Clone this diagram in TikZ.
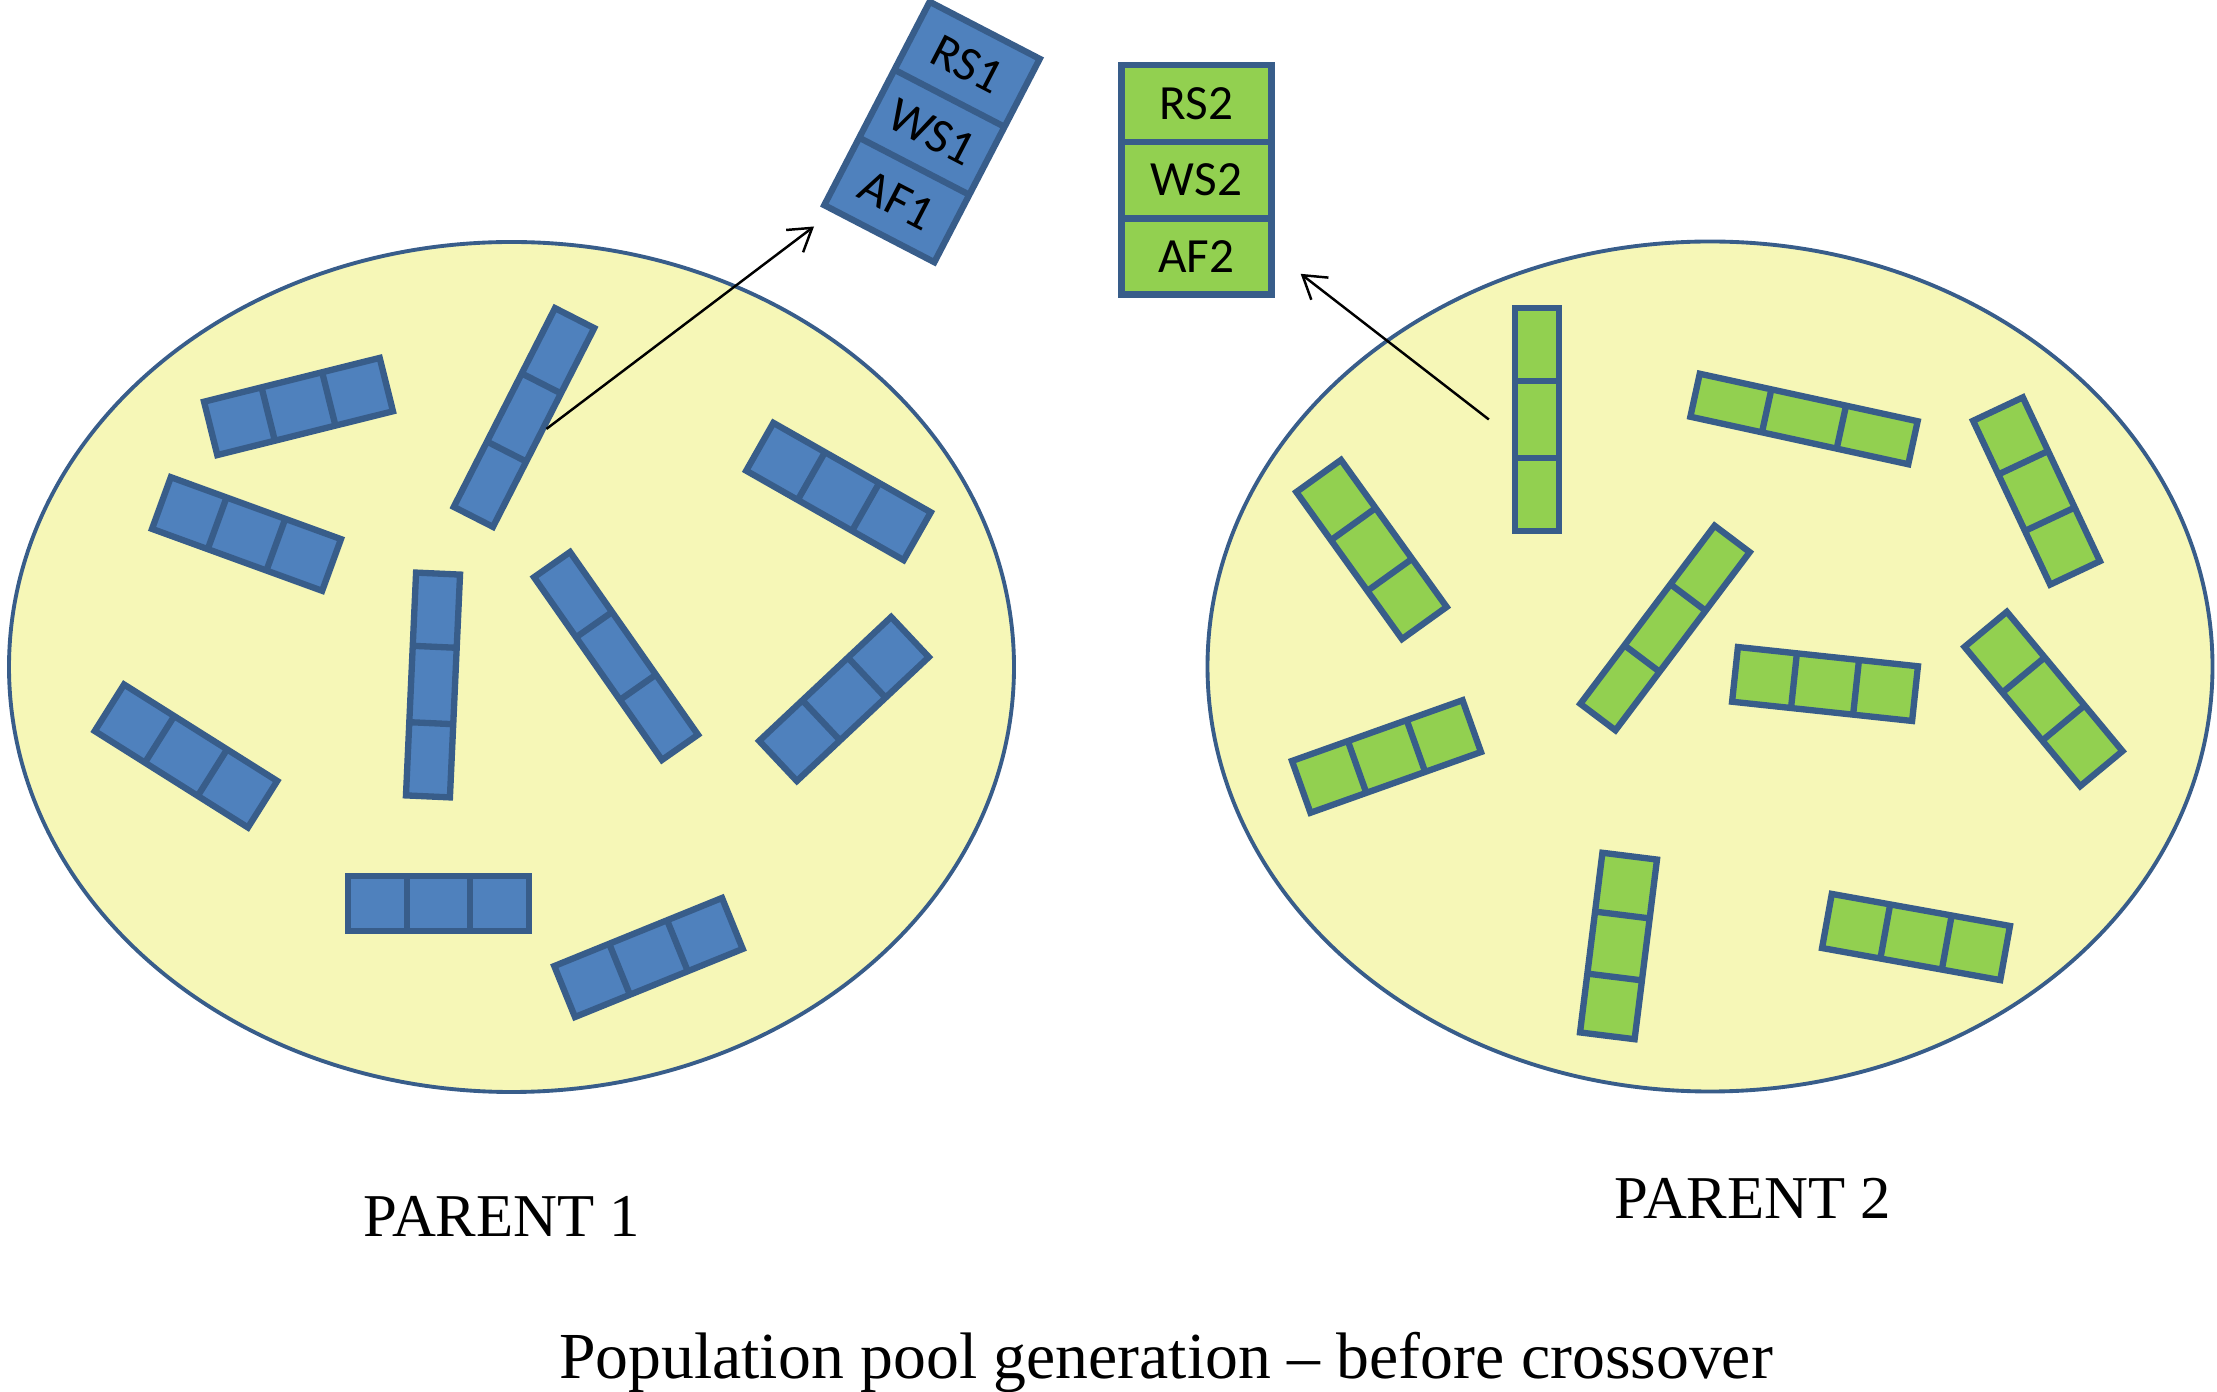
\documentclass[tikz,border=0pt]{standalone}
\usepackage{fontspec}
\setmainfont{Liberation Serif}
\newfontfamily\genefont{Carlito}
\usepackage{tikz}
\usepackage{xcolor}
\usetikzlibrary{shapes.geometric, shapes.multipart, arrows.meta}
\definecolor{poolyellow}{RGB}{246,247,183}
\definecolor{poolline}{RGB}{56,93,138}
\definecolor{geneline}{RGB}{56,93,138}
\definecolor{geneblue}{RGB}{79,129,189}
\definecolor{genegreen}{RGB}{146,208,80}
\tikzstyle{pool} = [ellipse, draw=poolline, fill=poolyellow, line width=1.1pt, minimum width=10.05cm, minimum height=8.5cm, inner sep=0pt]
\tikzstyle{gene} = [rectangle split, rectangle split horizontal, rectangle split parts=3, draw=geneline, line width=1.8pt, inner sep=0pt, rectangle split empty part depth=0pt]
\tikzstyle{shortgene} = [gene, rectangle split empty part width=0.40cm, rectangle split empty part height=0.55cm]
\tikzstyle{longgene} = [gene, rectangle split empty part width=0.54cm, rectangle split empty part height=0.44cm]
\tikzstyle{chromo} = [rectangle split, rectangle split parts=3, draw=geneline, line width=1.8pt, align=center, inner xsep=0pt, inner ysep=5.4pt, font=\genefont\fontsize{14}{16}\selectfont]
\tikzstyle{arrow} = [line width=0.7pt, -{Straight Barb[length=2.2mm, width=2.8mm]}]
\tikzstyle{parent} = [anchor=base, font=\fontsize{17.3}{20}\selectfont]

\begin{document}
\begin{tikzpicture}
\useasboundingbox (0,0) rectangle (22.17,13.91);
\node[pool] (pool1) at (5.115,7.24) {};
\node[pool] (pool2) at (17.10,7.245) {};

\node[shortgene, fill=geneblue, rotate=14] (p1a) at (2.985,9.845) {};
\node[longgene, fill=geneblue, rotate=63] (p1b) at (5.24,9.735) {};
\node[shortgene, fill=geneblue, rotate=-20] (p1c) at (2.465,8.57) {};
\node[longgene, fill=geneblue, rotate=87.4] (p1d) at (4.33,7.06) {};
\node[longgene, fill=geneblue, rotate=-55] (p1e) at (6.16,7.35) {};
\node[shortgene, fill=geneblue, rotate=-29.6] (p1f) at (8.385,8.995) {};
\node[shortgene, fill=geneblue, rotate=43.2] (p1g) at (8.44,6.92) {};
\node[shortgene, fill=geneblue, rotate=-32.2] (p1h) at (1.86,6.35) {};
\node[shortgene, fill=geneblue] (p1i) at (4.385,4.875) {};
\node[shortgene, fill=geneblue, rotate=22.1] (p1j) at (6.485,4.335) {};

\node[longgene, fill=genegreen, rotate=90] (p2a) at (15.37,9.715) {};
\node[longgene, fill=genegreen, rotate=-12.3] (p2b) at (18.04,9.72) {};
\node[shortgene, fill=genegreen, rotate=-64.8] (p2c) at (20.365,9.0) {};
\node[shortgene, fill=genegreen, rotate=-54.3] (p2d) at (13.715,8.415) {};
\node[longgene, fill=genegreen, rotate=53] (p2e) at (16.65,7.63) {};
\node[shortgene, fill=genegreen, rotate=-6.1] (p2f) at (18.25,7.07) {};
\node[shortgene, fill=genegreen, rotate=-50.3] (p2g) at (20.435,6.92) {};
\node[shortgene, fill=genegreen, rotate=19.6] (p2h) at (13.865,6.345) {};
\node[shortgene, fill=genegreen, rotate=82.9] (p2i) at (16.185,4.45) {};
\node[shortgene, fill=genegreen, rotate=-10.2] (p2j) at (19.16,4.54) {};

\node[chromo, fill=geneblue, text width=1.24cm, rotate=-27.4] (top1) at (9.32,12.59) {RS1\nodepart{two}WS1\nodepart{three}AF1};
\node[chromo, fill=genegreen, text width=1.50cm] (top2) at (11.965,12.11) {RS2\nodepart{two}WS2\nodepart{three}AF2};

\draw[arrow] (p1b.south) -- ([shift={(-0.06,-0.2)}]top1.south west);
\draw[arrow] ([xshift=-0.23cm]p2a.north) -- ([shift={(0.26,0.24)}]top2.south east);

\node[parent] (par1) at (5.02,1.55) {PARENT 1};
\node[parent] (par2) at (17.53,1.73) {PARENT 2};
\node[anchor=base, font=\fontsize{18.7}{22}\selectfont] (caption) at (11.66,0.13) {Population pool generation – before crossover};
\end{tikzpicture}
\end{document}
